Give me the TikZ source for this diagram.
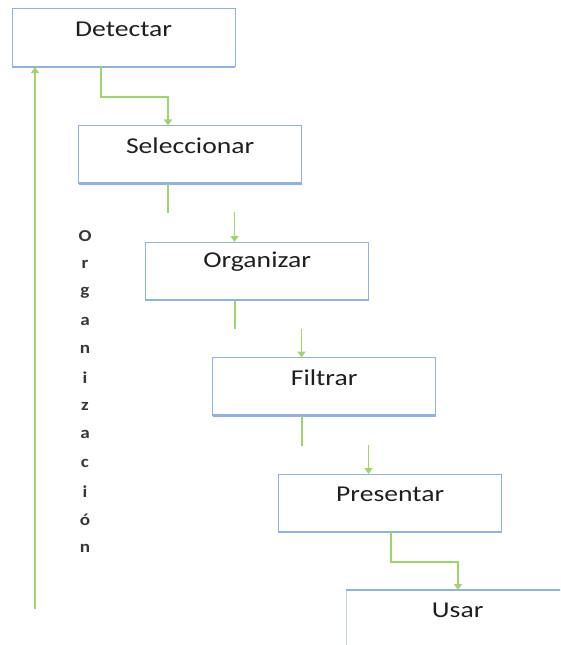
\documentclass[tikz,border=0pt]{standalone}
\usepackage{fontspec}
\setmainfont{Carlito}
\newfontfamily\boxfont[FakeStretch=1.22]{Carlito}
\newfontfamily\letterfont[FakeStretch=1.15]{Carlito}
\usetikzlibrary{arrows.meta,calc}
\definecolor{boxblue}{RGB}{141,179,226}
\definecolor{paleblue}{RGB}{190,212,240}
\definecolor{flowgreen}{RGB}{160,214,105}
\definecolor{lettergray}{RGB}{55,55,55}
\tikzset{
  stepbox/.style={draw=boxblue, line width=0.75pt, rectangle, anchor=north west,
    minimum width=167.5pt, minimum height=43.5pt, inner sep=0pt, outer sep=0pt},
  steptext/.style={font=\boxfont\fontsize{17}{20}\selectfont, text=black!88, anchor=center, inner sep=0pt},
  edge/.style={draw=boxblue, line width=1.6pt},
  flow/.style={draw=flowgreen, line width=1.4pt},
  flowarrow/.style={flow, -{Triangle[width=6pt,length=4.5pt]}},
  vletter/.style={font=\letterfont\fontsize{12.5}{14}\selectfont\bfseries, text=lettergray, inner sep=0pt}
}
\begin{document}
\begin{tikzpicture}[x=0.75pt, y=-0.75pt]
\useasboundingbox (0,0) rectangle (560,645);
\clip (0,0) rectangle (560,645);

% step boxes
\node[stepbox] (b1) at (12,9) {};
\node[stepbox] (b2) at (78.5,125.5) {};
\node[stepbox] (b3) at (145.5,242) {};
\node[stepbox] (b4) at (212.5,357.5) {};
\node[stepbox] (b5) at (278.5,474) {};
\node[stepbox, draw=paleblue] (b6) at (346,590) {};

% heavier bottom edges, and the top edge of the last box
\foreach \b in {b1,b2,b3,b4,b5}{
  \draw[edge] (\b.south west) -- (\b.south east);
}
\draw[edge] (b6.north west) -- (b6.north east);

% labels
\node[steptext] (t1) at ($(b1.north)+(0,20)$) {Detectar};
\node[steptext] (t2) at ($(b2.north)+(0,20)$) {Seleccionar};
\node[steptext] (t3) at ($(b3.north)+(0,20)$) {Organizar};
\node[steptext] (t4) at ($(b4.north)+(0,20)$) {Filtrar};
\node[steptext] (t5) at ($(b5.north)+(0,20)$) {Presentar};
\node[steptext] (t6) at ($(b6.north)+(0,20)$) {Usar};

% connectors between steps
\coordinate (s1) at (101,67);
\coordinate (e1) at (168,125.5);
\draw[flowarrow] (s1) |- (168,97) -- (e1);

\coordinate (s2) at (168,184);
\coordinate (m2a) at (168,213);
\coordinate (m2b) at (234.5,212);
\coordinate (e2) at (234.5,242);
\draw[flow] (s2) -- (m2a);
\draw[flowarrow] (m2b) -- (e2);

\coordinate (s3) at (235,300.5);
\coordinate (m3a) at (235,329);
\coordinate (m3b) at (301.5,328.5);
\coordinate (e3) at (301.5,357.5);
\draw[flow] (s3) -- (m3a);
\draw[flowarrow] (m3b) -- (e3);

\coordinate (s4) at (302,416);
\coordinate (m4a) at (302,446);
\coordinate (m4b) at (368.5,445);
\coordinate (e4) at (368.5,474);
\draw[flow] (s4) -- (m4a);
\draw[flowarrow] (m4b) -- (e4);

\coordinate (s5) at (391,532);
\coordinate (e5) at (458,590);
\draw[flowarrow] (s5) |- (458,562) -- (e5);

% return line to the first step
\coordinate (r0) at (35,609);
\coordinate (r1) at (35,67);
\draw[flowarrow] (r0) -- (r1);

% vertical caption, one letter per line
\foreach \ch [count=\i from 0] in {O,r,g,a,n,i,z,a,c,i,ó,n}{
  \node[vletter] (v\i) at (85,{236+28.4*\i}) {\ch};
}
\end{tikzpicture}
\end{document}
